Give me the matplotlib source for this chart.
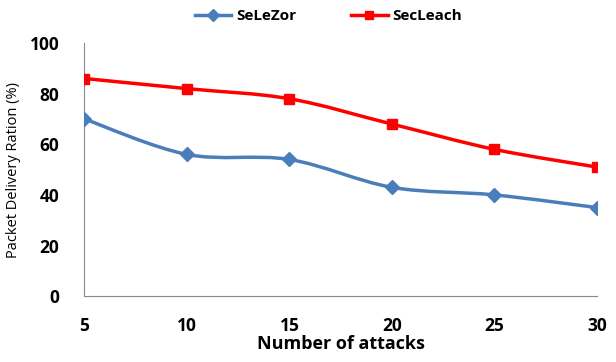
import matplotlib
matplotlib.use("Agg")
import matplotlib.pyplot as plt
import numpy as np
from matplotlib.path import Path
from matplotlib.patches import PathPatch
from matplotlib.lines import Line2D

plt.rcParams['font.family'] = ['Open Sans', 'DejaVu Sans']

attacks = [5, 10, 15, 20, 25, 30]
selezor = [70, 56, 54, 43, 40, 35]
secleach = [86, 82, 78, 68, 58, 51]

fig = plt.figure(figsize=(6.16, 3.62), dpi=100)
ax = fig.add_axes([0.137, 0.182, 0.832, 0.699])


def smooth_path(xs, ys):
    xs = np.asarray(xs, float)
    ys = np.asarray(ys, float)
    n = len(xs)
    verts = [(xs[0], ys[0])]
    codes = [Path.MOVETO]
    for i in range(n - 1):
        p0 = (xs[max(i - 1, 0)], ys[max(i - 1, 0)])
        p1 = (xs[i], ys[i])
        p2 = (xs[i + 1], ys[i + 1])
        p3 = (xs[min(i + 2, n - 1)], ys[min(i + 2, n - 1)])
        c1 = (p1[0] + (p2[0] - p0[0]) / 6, p1[1] + (p2[1] - p0[1]) / 6)
        c2 = (p2[0] - (p3[0] - p1[0]) / 6, p2[1] - (p3[1] - p1[1]) / 6)
        verts += [c1, c2, p2]
        codes += [Path.CURVE4] * 3
    return Path(verts, codes)


blue = '#4a7ebb'
red = '#ff0000'
for ys, col, mk, ms in [(selezor, blue, 'D', 7.5), (secleach, red, 's', 7.5)]:
    ax.add_patch(PathPatch(smooth_path(attacks, ys), facecolor='none',
                           edgecolor=col, lw=2.5, zorder=2))
    ax.plot(attacks, ys, linestyle='none', marker=mk, ms=ms, color=col, zorder=3)

ax.set_xlim(5, 30)
ax.set_ylim(0, 100)
ax.set_xticks(attacks)
ax.set_yticks([0, 20, 40, 60, 80, 100])
for s in ['top', 'right']:
    ax.spines[s].set_visible(False)
for s in ['left', 'bottom']:
    ax.spines[s].set_color('#888888')
    ax.spines[s].set_linewidth(0.8)
ax.tick_params(length=0, labelsize=12.5)
ax.tick_params(axis='x', pad=15)
ax.tick_params(axis='y', pad=18)
for lab in ax.get_xticklabels() + ax.get_yticklabels():
    lab.set_fontweight('bold')
ax.set_xlabel('Number of attacks', fontsize=13, fontweight='bold', labelpad=0)
ax.set_ylabel('Packet Delivery Ration (%)', fontsize=10.5, labelpad=6)

handles = [Line2D([], [], color=blue, lw=2.5, marker='D', ms=6),
           Line2D([], [], color=red, lw=2.5, marker='s', ms=6)]
fig.legend(handles, ['SeLeZor', 'SecLeach'], loc='center', bbox_to_anchor=(0.533, 0.955),
           ncol=2, frameon=False, prop={'weight': 'bold', 'size': 11},
           handlelength=2.4, columnspacing=3.6, handletextpad=0.3)

fig.savefig('out.png', dpi=100)
